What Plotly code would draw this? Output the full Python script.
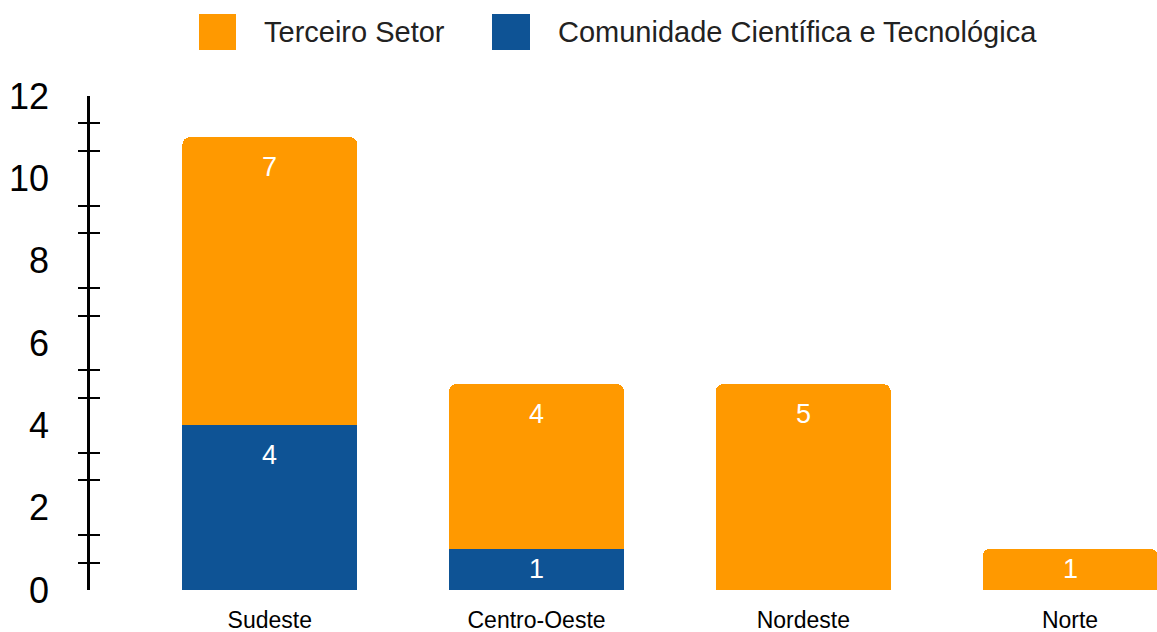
import plotly.graph_objects as go

# ---- data ----
regions = ["Sudeste", "Centro-Oeste", "Nordeste", "Norte"]
series_names = ["Comunidade Científica e Tecnológica", "Terceiro Setor"]
comunidade = [4, 1, 0, 0]
terceiro = [7, 4, 5, 1]
y_labels = [0, 2, 4, 6, 8, 10, 12]
y_marks = [2/3, 4/3, 8/3, 10/3, 14/3, 16/3, 20/3, 22/3, 26/3, 28/3, 32/3, 34/3]

ORANGE = "#FF9900"
BLUE = "#0E5395"
FONT = "Liberation Sans, Arial, sans-serif"

W, H = 1157, 632
ML, MR, MT, MB = 90, 0, 96, 42
PW, PH = W - ML - MR, H - MT - MB

def px_x(p):
    return (p - ML) / PW

def px_y(p):
    return (H - MB - p) / PH

fig = go.Figure()
fig.add_trace(go.Bar(x=regions, y=comunidade, name=series_names[0],
                     marker=dict(color=BLUE, line=dict(width=0)), width=0.655,
                     showlegend=False, hoverinfo="x+y"))
fig.add_trace(go.Bar(x=regions, y=terceiro, name=series_names[1],
                     marker=dict(color=ORANGE, line=dict(width=0)), width=0.655,
                     showlegend=False, hoverinfo="x+y"))
# helper trace for the second (tick) axis
fig.add_trace(go.Scatter(x=[None], y=[None], yaxis="y2", showlegend=False, hoverinfo="skip"))

unit_px = PH / 12.0
annotations = []
for i, r in enumerate(regions):
    base = 0
    for v in (comunidade[i], terceiro[i]):
        if v > 0:
            top = base + v
            shift = min(30, v * unit_px / 2)
            annotations.append(dict(x=r, y=top, xref="x", yref="y", text=str(v),
                                    showarrow=False, yshift=-shift, yanchor="middle",
                                    font=dict(family=FONT, size=27, color="white")))
        base += v

# manual legend
legend_items = [(series_names[1], ORANGE, 199, 236, 262), (series_names[0], BLUE, 492, 530, 556)]
shapes = []
for name, col, sx0, sx1, tx in legend_items:
    shapes.append(dict(type="rect", xref="paper", yref="paper",
                       x0=px_x(sx0), x1=px_x(sx1), y0=px_y(50), y1=px_y(14),
                       fillcolor=col, line=dict(width=0)))
    annotations.append(dict(x=px_x(tx), y=px_y(32), xref="paper", yref="paper",
                            text=name, showarrow=False, xanchor="left", yanchor="middle",
                            font=dict(family=FONT, size=29, color="#222222")))

fig.update_layout(
    width=W, height=H,
    margin=dict(l=ML, r=MR, t=MT, b=MB, pad=0),
    paper_bgcolor="white", plot_bgcolor="white",
    barmode="stack", barcornerradius=7,
    font=dict(family=FONT, color="black"),
    xaxis=dict(type="category", range=[-0.674, 3.326], showline=False, showgrid=False,
               zeroline=False, ticks="", tickfont=dict(size=23, color="black"),
               ticklabelstandoff=14),
    yaxis=dict(range=[0, 12], tickmode="array", tickvals=y_labels, ticks="",
               showline=True, linecolor="black", linewidth=2.5, showgrid=False,
               zeroline=False, tickfont=dict(size=36, color="black"),
               ticklabelstandoff=31,
               minor=dict(tickmode="array", tickvals=y_marks, ticks="outside",
                          ticklen=9, tickwidth=2.2, tickcolor="black", showgrid=False)),
    yaxis2=dict(range=[0, 12], overlaying="y", side="left", anchor="x",
                tickmode="array", tickvals=y_marks, ticks="inside", ticklen=10,
                tickwidth=2.2, tickcolor="black", showticklabels=False,
                showline=False, showgrid=False, zeroline=False),
    shapes=shapes,
    annotations=annotations,
)

fig.write_html("out.html", config={"displayModeBar": False},
               post_script="document.body.style.margin='0';")
